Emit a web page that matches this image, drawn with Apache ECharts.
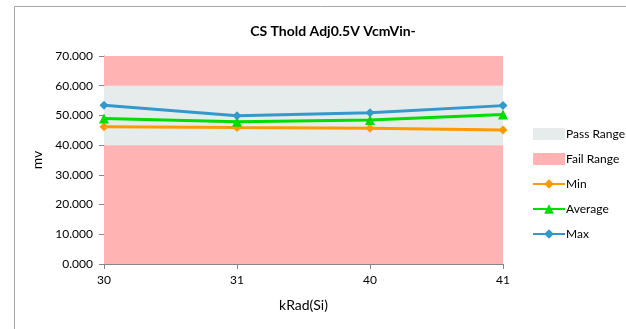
<!DOCTYPE html>
<html>
<head>
<meta charset="utf-8">
<script src="https://cdn.jsdelivr.net/npm/echarts@6/dist/echarts.min.js"></script>
<style>
  html, body { margin: 0; padding: 0; background: #fff; }
  #chart { width: 626px; height: 329px; }
</style>
</head>
<body>
<div id="chart"></div>
<script>
// 数据
const categories = ['30', '31', '40', '41']
const minValues = [46.2, 45.9, 45.7, 45.1]
const avgValues = [49.0, 47.9, 48.5, 50.3]
const maxValues = [53.4, 49.9, 50.9, 53.3]
const passRange = [40, 60]
const failRanges = [[0, 40], [60, 70]]

const font = 'Lato, "Noto Sans", sans-serif'
const chart = echarts.init(document.getElementById('chart'))

const lineSeries = (name, data, color, symbol) => ({
  name,
  type: 'line',
  data,
  color,
  symbol,
  symbolSize: symbol === 'triangle' ? 10 : 9,
  lineStyle: { width: 3, color },
  itemStyle: { color },
  z: 5
})

chart.setOption({
  animation: false,
  textStyle: { fontFamily: font },
  title: {
    text: 'CS Thold Adj0.5V VcmVin-',
    left: 328, top: 19, textAlign: 'center',
    textStyle: { fontSize: 14, fontWeight: 'bold', color: '#000', fontFamily: font }
  },
  graphic: [{
    type: 'rect', left: 12, top: 4,
    shape: { width: 640, height: 360 },
    style: { fill: 'none', stroke: '#a6a6a6', lineWidth: 1 }
  }],
  legend: {
    orient: 'vertical',
    left: 532, top: 128,
    padding: 0,
    itemGap: 13,
    itemWidth: 32, itemHeight: 12,
    textStyle: { fontSize: 12, color: '#000', fontFamily: font, padding: [0, 0, 0, -4] },
    data: [
      { name: 'Pass Range', icon: 'rect', itemStyle: { color: '#e6ecec' } },
      { name: 'Fail Range', icon: 'rect', itemStyle: { color: '#ffb3b3' } },
      'Min', 'Average', 'Max'
    ]
  },
  grid: { left: 104, right: 123, top: 56, bottom: 65 },
  xAxis: {
    type: 'category',
    data: categories,
    boundaryGap: false,
    name: 'kRad(Si)',
    nameLocation: 'middle',
    nameGap: 34,
    nameTextStyle: { fontSize: 14, color: '#000' },
    axisLine: { lineStyle: { color: '#868686' } },
    axisTick: { show: true, length: 5, lineStyle: { color: '#868686' } },
    axisLabel: { fontSize: 12, color: '#000', margin: 10 }
  },
  yAxis: {
    type: 'value',
    min: 0, max: 70, interval: 10,
    name: 'mv',
    nameLocation: 'middle',
    nameGap: 58,
    nameTextStyle: { fontSize: 14, color: '#000' },
    axisLine: { show: true, lineStyle: { color: '#868686' } },
    axisTick: { show: true, length: 5, lineStyle: { color: '#868686' } },
    splitLine: { show: false },
    axisLabel: { fontSize: 12, color: '#000', margin: 11, formatter: v => v.toFixed(3) }
  },
  series: [
    {
      name: 'Pass Range', type: 'line', data: [], color: '#e6ecec',
      markArea: {
        silent: true,
        itemStyle: { color: '#e6ecec' },
        data: [[{ yAxis: passRange[0] }, { yAxis: passRange[1] }]]
      }
    },
    {
      name: 'Fail Range', type: 'line', data: [], color: '#ffb3b3',
      markArea: {
        silent: true,
        itemStyle: { color: '#ffb3b3' },
        data: failRanges.map(r => [{ yAxis: r[0] }, { yAxis: r[1] }])
      }
    },
    lineSeries('Min', minValues, '#ff9900', 'diamond'),
    lineSeries('Average', avgValues, '#00dd00', 'triangle'),
    lineSeries('Max', maxValues, '#3399cc', 'diamond')
  ]
})
</script>
</body>
</html>
